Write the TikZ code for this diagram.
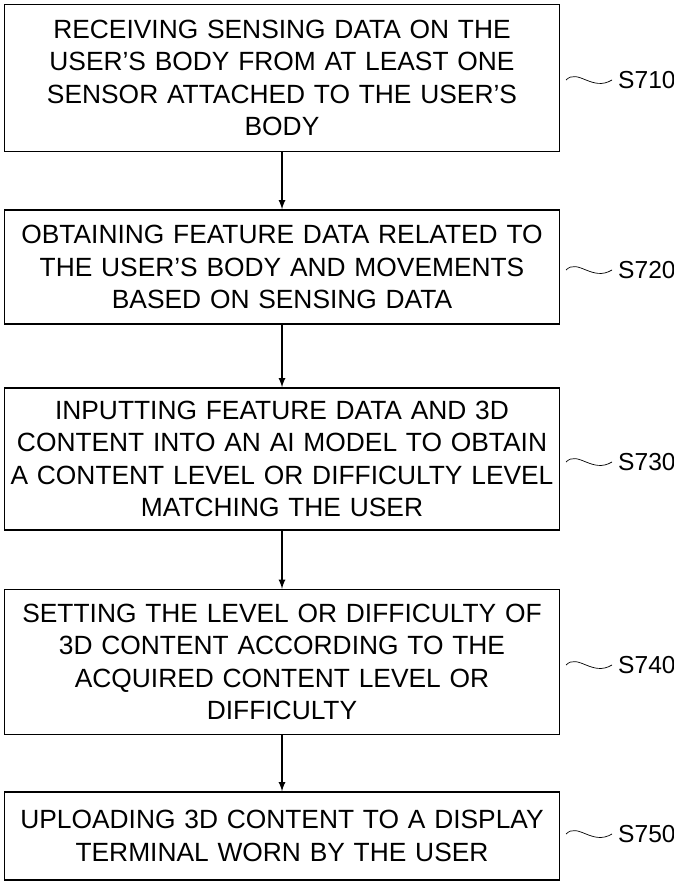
\documentclass[tikz,border=0pt]{standalone}
\usepackage{fontspec}
\setmainfont{Liberation Sans}
\usetikzlibrary{positioning}
\tikzset{
  stepbox/.style={draw,thick,minimum width=555*0.02cm,text width=545*0.02cm,align=center,
    font=\fontsize{15}{18.5}\selectfont,inner sep=0pt},
  steplabel/.style={font=\fontsize{14}{16}\selectfont},
  squig/.style={thin}
}
\begin{document}
\begin{tikzpicture}[x=0.02cm,y=-0.02cm]
  \useasboundingbox (0,0) rectangle (673,888);
  % boxes
  \node[stepbox,minimum height=147*0.02cm] (s710) at (282,78) {RECEIVING SENSING DATA ON THE\\USER'S BODY FROM AT LEAST ONE\\SENSOR ATTACHED TO THE USER'S\\BODY};
  \node[stepbox,minimum height=114*0.02cm] (s720) at (282,267) {OBTAINING FEATURE DATA RELATED TO\\THE USER'S BODY AND MOVEMENTS\\BASED ON SENSING DATA};
  \node[stepbox,minimum height=142*0.02cm] (s730) at (282,459) {INPUTTING FEATURE DATA AND 3D\\CONTENT INTO AN AI MODEL TO OBTAIN\\A CONTENT LEVEL OR DIFFICULTY LEVEL\\MATCHING THE USER};
  \node[stepbox,minimum height=145*0.02cm] (s740) at (282,662) {SETTING THE LEVEL OR DIFFICULTY OF\\3D CONTENT ACCORDING TO THE\\ACQUIRED CONTENT LEVEL OR\\DIFFICULTY};
  \node[stepbox,minimum height=88*0.02cm] (s750) at (282,836) {UPLOADING 3D CONTENT TO A DISPLAY\\TERMINAL WORN BY THE USER};
  % arrows
  \foreach \a/\b in {s710/s720,s720/s730,s730/s740,s740/s750}
    \draw[-latex,thick] (\a.south) -- (\b.north);
  % labels
  \foreach \n/\t/\y in {s710/S710/80,s720/S720/270,s730/S730/462,s740/S740/665,s750/S750/834}{
    \node[steplabel,anchor=west] (l\n) at (612,\y) {\t};
    \draw[squig] (566,\y) .. controls (578,\y-12) and (592,\y+12) .. (l\n.west);
  }
\end{tikzpicture}
\end{document}
